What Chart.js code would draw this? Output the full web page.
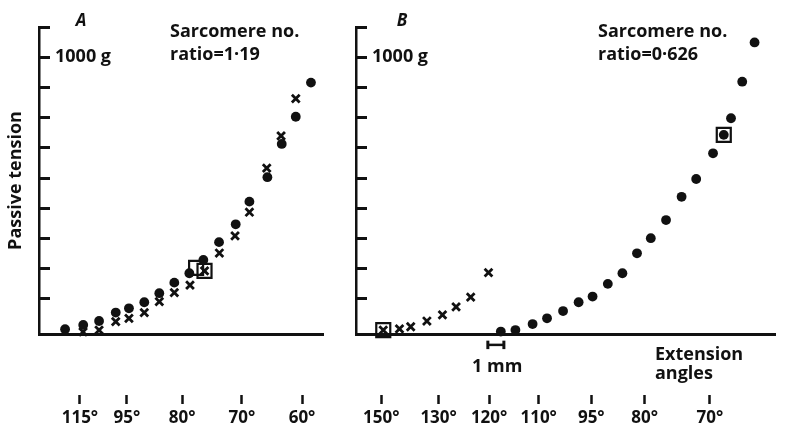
<!DOCTYPE html>
<html>
<head>
<script src="https://cdn.jsdelivr.net/npm/chart.js"></script>
<style>
  body { margin: 0; background: #fff; }
  #wrap { position: relative; width: 788px; height: 433px; }
  canvas { position: absolute; top: 0; }
  #chartA { left: 0; }
  #chartB { left: 340px; }
</style>
</head>
<body>
<div id="wrap">
  <canvas id="chartA" width="340" height="433"></canvas>
  <canvas id="chartB" width="448" height="433"></canvas>
</div>
<script>
// x = extension in mm (from the tension axis), y = passive tension in tick units (1000 g at 9)
const aDotX = [1.58, 2.68, 3.64, 4.65, 5.45, 6.38, 7.29, 8.20, 9.11, 9.96, 10.91, 11.92, 12.75, 13.84, 14.71, 15.56, 16.48];
const aDotY = [0.00, 0.14, 0.27, 0.55, 0.69, 0.89, 1.19, 1.54, 1.85, 2.29, 2.88, 3.47, 4.22, 5.03, 6.13, 7.03, 8.16];
const aCrossX = [2.67, 3.64, 4.65, 5.45, 6.38, 7.29, 8.20, 9.15, 10.03, 10.93, 11.88, 12.75, 13.80, 14.67, 15.56];
const aCrossY = [-0.09, -0.03, 0.25, 0.36, 0.55, 0.91, 1.21, 1.46, 1.93, 2.52, 3.09, 3.87, 5.33, 6.40, 7.63];
const aBoxX = [9.52, 10.03];
const aBoxY = [2.03, 1.93];
const aAngleX = [2.48, 5.33, 8.67, 12.30, 15.94];
const aAngleLabels = ['115°', '95°', '80°', '70°', '60°'];

const bCrossX = [1.70, 2.71, 3.41, 4.42, 5.39, 6.24, 7.15, 8.26];
const bCrossY = [-0.03, 0.01, 0.08, 0.27, 0.47, 0.74, 1.06, 1.87];
const bDotX = [9.03, 9.94, 11.01, 11.91, 12.91, 13.88, 14.75, 15.70, 16.61, 17.52, 18.38, 19.33, 20.30, 21.21, 22.26, 22.93, 23.38, 24.08, 24.85];
const bDotY = [-0.08, -0.03, 0.17, 0.36, 0.60, 0.89, 1.08, 1.50, 1.85, 2.51, 3.01, 3.61, 4.38, 4.97, 5.82, 6.43, 6.98, 8.19, 9.49];
const bBoxX = [1.70, 22.93];
const bBoxY = [-0.03, 6.43];
const bAngleX = [1.58, 5.15, 8.30, 11.39, 14.67, 18.00, 22.06];
const bAngleLabels = ['150°', '130°', '120°', '110°', '95°', '80°', '70°'];

const tensionTicks = [1, 2, 3, 4, 5, 6, 7, 8, 9, 10];
// 1 mm scale bar under panel B (mm along x, tension units for its height)
const scaleBarMm = [8.22, 9.22];
const scaleBarLevel = -0.52;
const scaleBarCap = 0.14;

const INK = '#111';
const FAMILY = '"Open Sans", sans-serif';

const notesPlugin = {
    id: 'notes',
    afterDraw(chart, args, opts) {
        const ctx = chart.ctx;
        ctx.save();
        ctx.fillStyle = INK;
        ctx.textBaseline = 'alphabetic';
        opts.items.forEach(n => {
            ctx.font = n.font;
            ctx.textAlign = n.align || 'left';
            ctx.fillText(n.text, n.x, n.y);
        });
        ctx.restore();
    }
};

function pts(xs, ys) {
    return xs.map((x, i) => ({x: x, y: ys[i]}));
}

function segment(points, width) {
    return {type: 'line', data: points, showLine: true, borderColor: INK,
            borderWidth: width, pointRadius: 0, borderCapStyle: 'butt'};
}

function panel(id, p) {
    const datasets = [
        {data: pts(p.dotX, p.dotY), pointStyle: 'circle', pointRadius: 4.9,
         backgroundColor: INK, borderColor: INK, borderWidth: 0},
        {data: pts(p.crossX, p.crossY), pointStyle: 'crossRot', pointRadius: 5.5,
         borderColor: INK, borderWidth: 2.8},
        {data: pts(p.boxX, p.boxY), pointStyle: 'rect', pointRadius: 9.9,
         backgroundColor: 'rgba(0,0,0,0)', borderColor: INK, borderWidth: 2.2}
    ];
    if (p.scaleBar) {
        const lo = scaleBarLevel - scaleBarCap, hi = scaleBarLevel + scaleBarCap;
        datasets.push(segment(pts(scaleBarMm, [scaleBarLevel, scaleBarLevel]), 2.5));
        scaleBarMm.forEach(m => datasets.push(segment(pts([m, m], [lo, hi]), 3)));
    }
    datasets.forEach(d => { d.clip = false; });

    new Chart(document.getElementById(id), {
        type: 'scatter',
        data: {datasets: datasets},
        options: {
            responsive: false,
            animation: false,
            events: [],
            layout: {padding: {left: 0, right: p.padRight, top: 27, bottom: 0}},
            plugins: {
                legend: {display: false},
                tooltip: {enabled: false},
                notes: {items: p.notes}
            },
            scales: {
                x: {
                    type: 'linear', position: 'bottom', min: 0, max: p.xMax, weight: 0,
                    border: {display: true, color: INK, width: 3},
                    grid: {display: false},
                    ticks: {display: false},
                    afterFit: s => { s.height = 61; }
                },
                xa: {
                    type: 'linear', position: 'bottom', min: 0, max: p.xMax, weight: 1,
                    border: {display: false},
                    grid: {drawOnChartArea: false, drawTicks: true, tickLength: 9, tickWidth: 2.5, color: INK, tickColor: INK},
                    afterBuildTicks: s => { s.ticks = p.angleX.map(v => ({value: v})); },
                    ticks: {autoSkip: false, maxRotation: 0, padding: 4, color: INK,
                        font: {family: FAMILY, size: 17, weight: 'bold'},
                        callback: (v, i) => p.angleLabels[i]},
                    afterFit: s => { s.height = 38; }
                },
                y: {
                    type: 'linear', position: 'left', min: -0.16, max: 10,
                    border: {display: true, color: INK, width: 2.5},
                    grid: {drawOnChartArea: false, drawTicks: true, tickLength: -11, tickWidth: 3, color: INK, tickColor: INK},
                    afterBuildTicks: s => { s.ticks = tensionTicks.map(v => ({value: v})); },
                    ticks: {mirror: true, padding: 16, color: INK,
                        font: {family: FAMILY, size: 18, weight: 'bold'},
                        callback: v => v === 9 ? '1000 g' : ''},
                    title: {display: p.yTitle, text: 'Passive tension', color: INK,
                        font: {family: FAMILY, size: 18, weight: 'bold'}, padding: {top: 5, bottom: 0}},
                    afterFit: s => { s.width = p.axisLeft; }
                }
            }
        },
        plugins: [notesPlugin]
    });
}

const big = 'bold 18px ' + FAMILY;
const letter = 'italic bold 17px ' + FAMILY;

panel('chartA', {
    dotX: aDotX, dotY: aDotY, crossX: aCrossX, crossY: aCrossY, boxX: aBoxX, boxY: aBoxY,
    angleX: aAngleX, angleLabels: aAngleLabels,
    xMax: 17.21, padRight: 17, axisLeft: 39, yTitle: true, scaleBar: false,
    notes: [
        {text: 'A', x: 81, y: 26, font: letter, align: 'center'},
        {text: 'Sarcomere no.', x: 170, y: 37, font: big},
        {text: 'ratio=1·19', x: 170, y: 60, font: big}
    ]
});

panel('chartB', {
    dotX: bDotX, dotY: bDotY, crossX: bCrossX, crossY: bCrossY, boxX: bBoxX, boxY: bBoxY,
    angleX: bAngleX, angleLabels: bAngleLabels,
    xMax: 26.18, padRight: 0, axisLeft: 16, yTitle: false, scaleBar: true,
    notes: [
        {text: 'B', x: 62, y: 26, font: letter, align: 'center'},
        {text: 'Sarcomere no.', x: 258, y: 37, font: big},
        {text: 'ratio=0·626', x: 258, y: 60, font: big},
        {text: '1 mm', x: 132, y: 372, font: big},
        {text: 'Extension', x: 315, y: 360, font: big},
        {text: 'angles', x: 315, y: 379, font: big}
    ]
});
</script>
</body>
</html>
